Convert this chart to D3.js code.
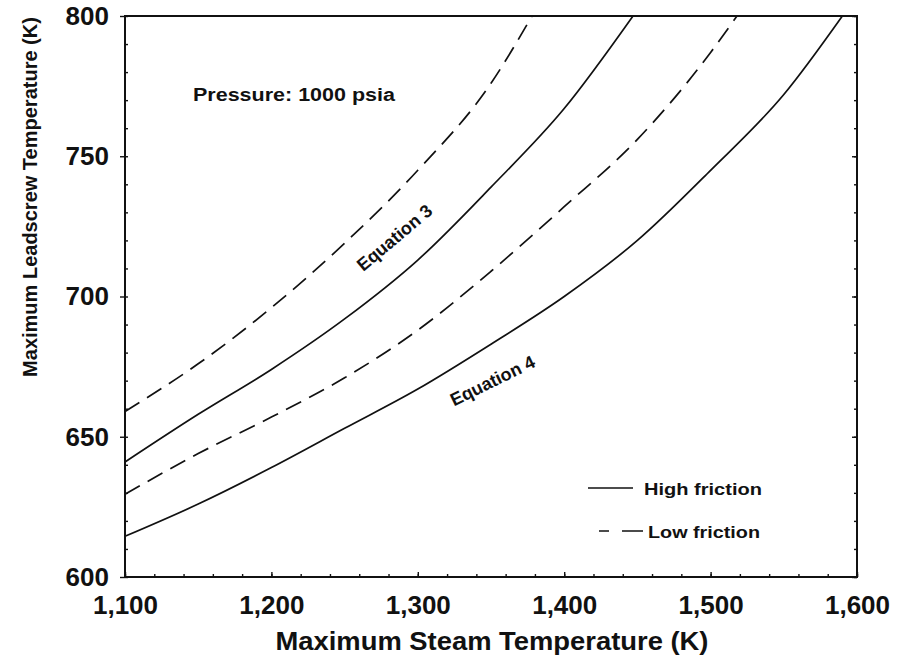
<!DOCTYPE html>
<html>
<head>
<meta charset="utf-8">
<script src="https://cdn.jsdelivr.net/npm/d3@7"></script>
<style>
  body { margin: 0; background: #fff; }
  svg { display: block; }
  text { font-family: "Liberation Sans", Arial, sans-serif; font-weight: bold; fill: #111; }
</style>
</head>
<body>
<svg id="chart" width="900" height="659"></svg>
<script>
// values (steam temp K, leadscrew temp K)
var eq3Low  = [[1100,659],[1150,676],[1200,696],[1250,719],[1300,745],[1350,776],[1378,800]];
var eq3High = [[1100,641],[1150,658],[1200,674],[1250,692],[1300,713],[1350,739],[1400,767],[1447,800]];
var eq4Low  = [[1100,629.5],[1150,644],[1200,657],[1250,671],[1300,688],[1350,709],[1400,732],[1450,756],[1500,787],[1518,800]];
var eq4High = [[1100,614.5],[1150,626],[1200,639],[1250,653],[1300,667],[1350,683],[1400,700],[1450,720],[1500,745],[1550,772],[1590,800]];

var xTicks = [1100, 1200, 1300, 1400, 1500, 1600];
var yTicks = [600, 650, 700, 750, 800];

var svg = d3.select("#chart"),
	pLeft = 125, pRight = 857, pTop = 16, pBottom = 577;

var x = d3.scaleLinear().domain([1100, 1600]).range([pLeft, pRight]);
var y = d3.scaleLinear().domain([600, 800]).range([pBottom, pTop]);

var line = d3.line()
	.x(function(d) { return x(d[0]); })
	.y(function(d) { return y(d[1]); })
	.curve(d3.curveMonotoneX);

// curves
var series = [
	{ data: eq3Low, dash: "17,9" },
	{ data: eq3High, dash: null },
	{ data: eq4Low, dash: "17,9" },
	{ data: eq4High, dash: null }
];
svg.selectAll("path.curve")
	.data(series)
	.enter().append("path")
	.attr("class", "curve")
	.attr("d", function(d) { return line(d.data); })
	.attr("fill", "none")
	.attr("stroke", "#111")
	.attr("stroke-width", 1.7)
	.attr("stroke-dasharray", function(d) { return d.dash; });

// axes
var xAxis = d3.axisBottom(x).tickValues(xTicks).tickSizeInner(-5).tickSizeOuter(0)
	.tickPadding(19).tickFormat(d3.format(","));
svg.append("g").attr("transform", "translate(0," + pBottom + ")").call(xAxis);

var yAxis = d3.axisLeft(y).tickValues(yTicks).tickSizeInner(5).tickSizeOuter(0).tickPadding(11);
svg.append("g").attr("transform", "translate(" + pLeft + ",0)").call(yAxis);

var yAxisR = d3.axisRight(y).tickValues(yTicks).tickSizeInner(-5).tickSizeOuter(0).tickFormat("");
svg.append("g").attr("transform", "translate(" + pRight + ",0)").call(yAxisR);

// minor ticks
var xMinor = d3.axisBottom(x).ticks(25).tickSizeInner(-3).tickSizeOuter(0).tickFormat("");
svg.append("g").attr("transform", "translate(0," + pBottom + ")").call(xMinor);
var yMinor = d3.axisLeft(y).ticks(20).tickSizeInner(-3).tickSizeOuter(0).tickFormat("");
svg.append("g").attr("transform", "translate(" + pLeft + ",0)").call(yMinor);
var yMinorR = d3.axisRight(y).ticks(20).tickSizeInner(-3).tickSizeOuter(0).tickFormat("");
svg.append("g").attr("transform", "translate(" + pRight + ",0)").call(yMinorR);

svg.selectAll(".domain").remove();
svg.selectAll(".tick line").attr("stroke", "#111").attr("stroke-width", 1.4);
svg.selectAll(".tick text").attr("fill", "#111")
	.style("font-family", '"Liberation Sans", Arial, sans-serif')
	.style("font-weight", "bold")
	.style("font-size", "26px");

// frame
svg.append("rect")
	.attr("x", pLeft).attr("y", pTop)
	.attr("width", pRight - pLeft).attr("height", pBottom - pTop)
	.attr("fill", "none").attr("stroke", "#111").attr("stroke-width", 2);

// axis titles
svg.append("text")
	.attr("x", (pLeft + pRight) / 2 + 1).attr("y", 650)
	.attr("text-anchor", "middle")
	.attr("textLength", 433).attr("lengthAdjust", "spacingAndGlyphs")
	.style("font-size", "25px")
	.text("Maximum Steam Temperature (K)");

svg.append("text")
	.attr("transform", "translate(37,197) rotate(-90)")
	.attr("text-anchor", "middle")
	.style("font-size", "20px")
	.text("Maximum Leadscrew Temperature (K)");

// annotations
svg.append("text")
	.attr("x", 193).attr("y", 101)
	.attr("textLength", 202).attr("lengthAdjust", "spacingAndGlyphs")
	.style("font-size", "18px")
	.text("Pressure: 1000 psia");

svg.append("text")
	.attr("transform", "translate(" + x(1284) + "," + y(721) + ") rotate(-40)")
	.attr("text-anchor", "middle").attr("dy", "0.35em")
	.style("font-size", "18px")
	.text("Equation 3");

svg.append("text")
	.attr("transform", "translate(" + x(1351) + "," + y(670) + ") rotate(-26)")
	.attr("text-anchor", "middle").attr("dy", "0.35em")
	.style("font-size", "18px")
	.text("Equation 4");

// legend
svg.append("line")
	.attr("x1", 588).attr("x2", 633).attr("y1", 488).attr("y2", 488)
	.attr("stroke", "#111").attr("stroke-width", 1.5);
svg.append("text")
	.attr("x", 644).attr("y", 495)
	.attr("textLength", 118).attr("lengthAdjust", "spacingAndGlyphs")
	.style("font-size", "17px")
	.text("High friction");

svg.append("line")
	.attr("x1", 599).attr("x2", 643).attr("y1", 531).attr("y2", 531)
	.attr("stroke", "#111").attr("stroke-width", 1.5)
	.attr("stroke-dasharray", "10,13,21");
svg.append("text")
	.attr("x", 648).attr("y", 538)
	.attr("textLength", 112).attr("lengthAdjust", "spacingAndGlyphs")
	.style("font-size", "17px")
	.text("Low friction");
</script>
</body>
</html>
